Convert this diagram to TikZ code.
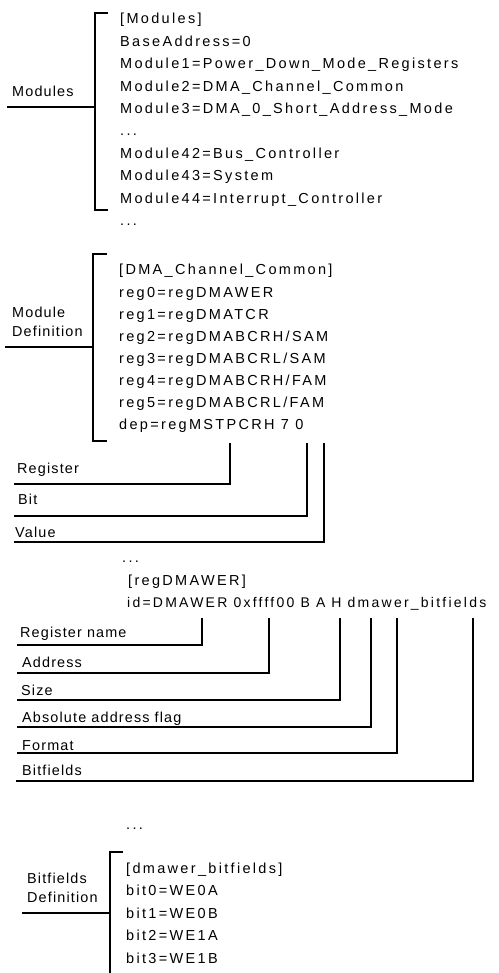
\documentclass[tikz,border=0pt]{standalone}
\usepackage{fontspec}
\setmainfont{Liberation Sans}
\newfontfamily\listfont[LetterSpace=16]{Liberation Sans}
\newfontfamily\tagfont[LetterSpace=8]{Liberation Sans}
\usetikzlibrary{positioning}

\begin{document}
\begin{tikzpicture}[
    x=1pt, y=-1pt,
    entry/.style={anchor=base west, inner sep=0pt,
                  font=\listfont\fontsize{14.5}{16}\selectfont},
    tag/.style={anchor=base west, inner sep=0pt,
                font=\tagfont\fontsize{14.4}{16}\selectfont},
    wire/.style={line width=1.2pt},
]
\useasboundingbox (0,0) rectangle (498,973);

% =================================================================
%  MODULES LIST
% =================================================================
\node[entry] (m0) at (120, 24)    {[Modules]};
\node[entry] (m1) at (120, 46.4)  {BaseAddress=0};
\node[entry] (m2) at (120, 68.8)  {Module1=Power\_Down\_Mode\_Registers};
\node[entry] (m3) at (120, 91.2)  {Module2=DMA\_Channel\_Common};
\node[entry] (m4) at (120, 113.6) {Module3=DMA\_0\_Short\_Address\_Mode};
\node[entry] (m5) at (120, 136)   {...};
\node[entry] (m6) at (120, 158.4) {Module42=Bus\_Controller};
\node[entry] (m7) at (120, 180.8) {Module43=System};
\node[entry] (m8) at (120, 203.2) {Module44=Interrupt\_Controller};
\node[entry] (m9) at (120, 225.6) {...};

\node[tag] (modtag) at (12, 97) {Modules};

\coordinate (b1top) at (108, 13);
\coordinate (b1bot) at (108, 210);
\coordinate (b1mid) at (95, 107);
\coordinate (b1lab) at (7, 107);
\draw[wire] (b1top) -| (95, 210) -- (b1bot);
\draw[wire] (b1lab) -- (b1mid);

% =================================================================
%  MODULE DEFINITION
% =================================================================
\node[entry] (d0) at (119, 275) {[DMA\_Channel\_Common]};
\node[entry] (d1) at (119, 297) {reg0=regDMAWER};
\node[entry] (d2) at (119, 319) {reg1=regDMATCR};
\node[entry] (d3) at (119, 341) {reg2=regDMABCRH/SAM};
\node[entry] (d4) at (119, 363) {reg3=regDMABCRL/SAM};
\node[entry] (d5) at (119, 385) {reg4=regDMABCRH/FAM};
\node[entry] (d6) at (119, 407) {reg5=regDMABCRL/FAM};
\node[entry] (d7) at (119, 429.5) {dep=regMSTPCRH 7 0};

\node[tag] (deftag1) at (12, 317) {Module};
\node[tag] (deftag2) at (12, 336) {Definition};

\coordinate (b2top) at (107, 254);
\coordinate (b2bot) at (107, 441);
\coordinate (b2mid) at (93, 347);
\coordinate (b2lab) at (5, 347);
\draw[wire] (b2top) -| (93, 441) -- (b2bot);
\draw[wire] (b2lab) -- (b2mid);

% dep fields
\node[tag] (regtag) at (17, 473) {Register};
\node[tag] (bittag) at (18, 504) {Bit};
\node[tag] (valtag) at (15, 537) {Value};

\coordinate (regtop) at (230, 443);
\coordinate (bittop) at (307, 443);
\coordinate (valtop) at (324, 443);
\coordinate (regend) at (14, 484);
\coordinate (bitend) at (14, 516);
\coordinate (valend) at (14, 542);
\draw[wire] (regtop) |- (regend);
\draw[wire] (bittop) |- (bitend);
\draw[wire] (valtop) |- (valend);

% =================================================================
%  REGISTER DEFINITION
% =================================================================
\node[entry] (r0) at (122, 562) {...};
\node[entry] (r1) at (128, 585) {[regDMAWER]};
\node[entry, font=\listfont\fontsize{14}{16}\selectfont] (r2) at (127, 607)
    {id=DMAWER 0xffff00 B A H dmawer\_bitfields};

\node[tag] (nametag) at (20, 637) {Register name};
\node[tag] (addrtag) at (22, 667) {Address};
\node[tag] (sizetag) at (21, 695) {Size};
\node[tag] (abstag)  at (22, 722) {Absolute address flag};
\node[tag] (fmttag)  at (22, 750) {Format};
\node[tag] (bftag)   at (22, 775) {Bitfields};

\coordinate (nametop) at (202, 618);
\coordinate (addrtop) at (269, 618);
\coordinate (sizetop) at (340, 618);
\coordinate (abstop)  at (371, 618);
\coordinate (fmttop)  at (397, 618);
\coordinate (bftop)   at (473, 618);
\coordinate (nameend) at (17, 645);
\coordinate (addrend) at (17, 673);
\coordinate (sizeend) at (17, 700);
\coordinate (absend)  at (17, 727);
\coordinate (fmtend)  at (17, 753);
\coordinate (bfend)   at (16, 781);
\draw[wire] (nametop) |- (nameend);
\draw[wire] (addrtop) |- (addrend);
\draw[wire] (sizetop) |- (sizeend);
\draw[wire] (abstop)  |- (absend);
\draw[wire] (fmttop)  |- (fmtend);
\draw[wire] (bftop)   |- (bfend);

% =================================================================
%  BITFIELDS DEFINITION
% =================================================================
\node[entry] (f0) at (126, 829)   {...};
\node[entry] (f1) at (126, 873)   {[dmawer\_bitfields]};
\node[entry] (f2) at (126, 895.5) {bit0=WE0A};
\node[entry] (f3) at (126, 918)   {bit1=WE0B};
\node[entry] (f4) at (126, 940.5) {bit2=WE1A};
\node[entry] (f5) at (126, 963)   {bit3=WE1B};

\node[tag] (bfdtag1) at (27, 883) {Bitfields};
\node[tag] (bfdtag2) at (27, 902) {Definition};

\coordinate (b4top) at (123, 852);
\coordinate (b4bot) at (110, 973);
\coordinate (b4mid) at (110, 913);
\coordinate (b4lab) at (22, 913);
\draw[wire] (b4top) -| (b4bot);
\draw[wire] (b4lab) -- (b4mid);

\end{tikzpicture}
\end{document}
